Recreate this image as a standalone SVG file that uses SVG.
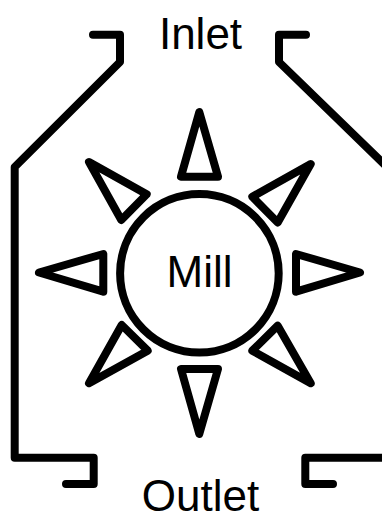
<svg xmlns="http://www.w3.org/2000/svg" width="382" height="515" viewBox="0 0 382 515">
<style>
.s{fill:none;stroke:#000;stroke-width:8;stroke-linejoin:round;stroke-linecap:round}
text{font-family:"Liberation Sans",Arial,sans-serif;font-size:44px;fill:#000;text-anchor:middle}
</style>
<rect width="382" height="515" fill="#fff"/>
<g id="connectors">
<path class="s" d="M93 34.7H120V62L14.7 167V457.7H93.7V484H66"/>
<path class="s" d="M306 34.7H279V62L388 168V457.7H305.3V484H333"/>
</g>
<g id="mill"><circle class="s" cx="199.4" cy="273.3" r="79.3"/><text x="199.5" y="287">Mill</text></g>
<g id="inlet"><text x="200.5" y="49">Inlet</text></g>
<g id="outlet"><text x="200.5" y="511">Outlet</text></g>
<g id="blade-n"><path class="s" d="M199.3 112L181 176.7H218Z"/></g>
<g id="blade-ne"><path class="s" d="M310.7 164L252.3 196.7L277.7 222.5Z"/></g>
<g id="blade-e"><path class="s" d="M360 272.5L296 254V291.7Z"/></g>
<g id="blade-se"><path class="s" d="M310.7 383.3L252.3 350.7L277.7 325.7Z"/></g>
<g id="blade-s"><path class="s" d="M199.3 434L181 369H218Z"/></g>
<g id="blade-sw"><path class="s" d="M89 383.3L147.7 350.7L121.7 325Z"/></g>
<g id="blade-w"><path class="s" d="M39 272.5L103.3 254V291.7Z"/></g>
<g id="blade-nw"><path class="s" d="M89 162L146.7 194.3L121.3 220Z"/></g>
</svg>
